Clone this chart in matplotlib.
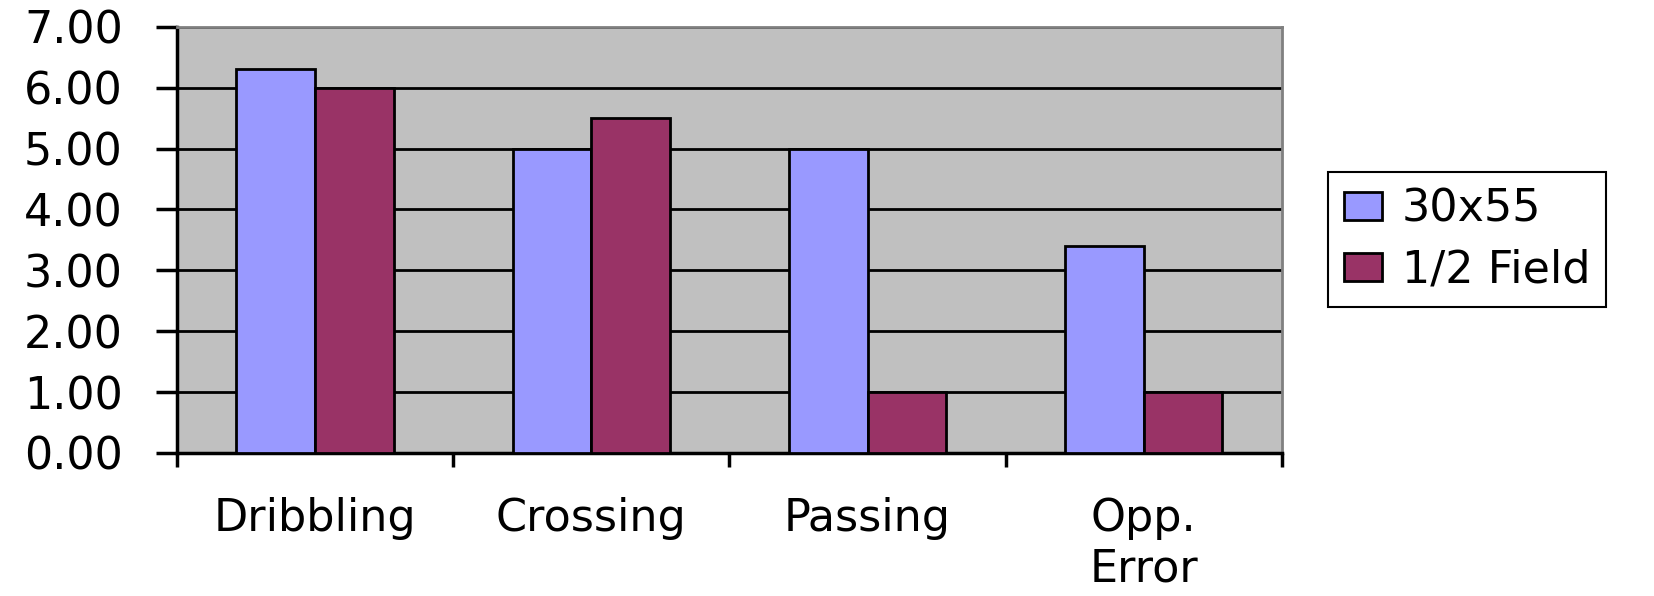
import matplotlib.pyplot as plt
import numpy as np

plt.rcParams['font.family'] = ['DejaVu Sans']

categories = ['Dribbling', 'Crossing', 'Passing', 'Opp.\nError']
small_field = [6.3, 5.0, 5.0, 3.4]
half_field = [6.0, 5.5, 1.0, 1.0]

fig = plt.figure(figsize=(16.54, 5.96), dpi=100)
ax = fig.add_axes([0.107, 0.240, 0.668, 0.715])
ax.set_facecolor('#C0C0C0')

x = np.arange(len(categories)) + 0.5
w = 0.285
ax.bar(x - w / 2, small_field, w, color='#9999FF', edgecolor='black', linewidth=2, label='30x55', zorder=3)
ax.bar(x + w / 2, half_field, w, color='#993366', edgecolor='black', linewidth=2, label='1/2 Field', zorder=3)

ax.set_xlim(0, 4)
ax.set_ylim(0, 7)
ax.set_yticks(np.arange(0, 8, 1))
ax.set_yticklabels([f'{v:.2f}' for v in range(8)], fontsize=32)
ax.yaxis.grid(True, color='black', linewidth=2, zorder=1)
ax.set_axisbelow(True)

ax.set_xticks(np.arange(0, 5, 1))
ax.set_xticklabels([])
ax.set_xticks(x, minor=True)
ax.set_xticklabels(categories, minor=True, fontsize=32, linespacing=1.2)
ax.tick_params(axis='x', which='minor', length=0, pad=32)
ax.tick_params(axis='x', which='major', length=10, width=2.5, direction='out')
ax.tick_params(axis='y', length=15, width=2.5, pad=24)

for s in ['top', 'right']:
    ax.spines[s].set_color('#808080')
    ax.spines[s].set_linewidth(2)
ax.spines['left'].set_linewidth(2.5)
ax.spines['bottom'].set_linewidth(2.5)

leg = fig.legend(loc='upper left', bbox_to_anchor=(0.803, 0.711), fontsize=32,
                 frameon=True, fancybox=False, edgecolor='black', framealpha=1,
                 handlelength=0.86, handleheight=0.61, handletextpad=0.45,
                 borderpad=0.35, labelspacing=0.4, borderaxespad=0)
leg.get_frame().set_linewidth(1.5)

fig.savefig('out.png', dpi=100)
